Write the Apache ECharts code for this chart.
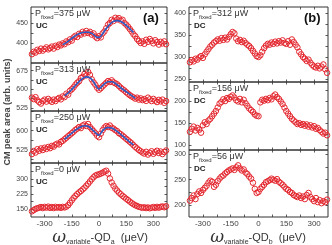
<!DOCTYPE html>
<html><head><meta charset="utf-8">
<script src="https://cdn.jsdelivr.net/npm/echarts@6/dist/echarts.min.js"></script>
<style>html,body{margin:0;padding:0;background:#fff}#c{width:332px;height:245px}</style>
</head><body><div id="c"></div><script>
// detuning (µeV)
const detuning = [-370,-360,-350,-340,-330,-320,-310,-300,-290,-280,
 -270,-260,-250,-240,-230,-220,-210,-200,-190,-180,
 -170,-160,-150,-140,-130,-120,-110,-100,-90,-80,
 -70,-60,-50,-40,-30,-20,-10,0,10,20,
 30,40,50,60,70,80,90,100,110,120,
 130,140,150,160,170,180,190,200,210,220,
 230,240,250,260,270,280,290,300,310,320,
 330,340,350,360,370];
// (a) UC panels
const ucP375 = [372,378,376,383,380,386,381,385,389,384,
 387,391,386,393,390,396,394,399,397,404,
 402,409,406,414,418,415,423,421,428,424,
 430,425,428,421,424,416,412,417,414,424,
 429,437,446,450,458,455,463,459,462,456,
 458,450,446,441,435,429,422,417,410,405,
 400,404,398,408,403,410,405,399,407,402,
 396,403,399,404,397];
const ucP313 = [566,560,568,555,548,542,552,558,550,561,
 554,549,558,552,560,565,559,571,568,582,
 578,594,600,608,618,626,632,645,650,662,
 656,670,658,640,628,618,606,598,604,612,
 619,626,633,629,636,628,624,620,613,606,
 600,595,588,582,576,571,567,562,566,558,
 563,556,560,553,566,559,552,561,554,548,
 557,551,558,545,552];
const ucP250 = [508,520,514,527,521,530,524,533,528,536,
 531,540,537,545,549,546,556,560,566,572,
 578,584,590,596,603,608,614,610,620,624,
 618,626,614,606,598,590,580,574,588,602,
 612,618,614,620,611,608,602,598,590,586,
 580,574,568,562,556,550,543,536,530,524,
 519,514,510,517,506,513,519,509,515,521,
 512,518,508,516,522];
const ucP0 = [140,146,152,155,158,161,156,162,158,163,
 157,161,156,162,158,161,157,162,159,163,
 170,182,194,206,216,225,233,240,248,256,
 266,276,287,298,308,316,320,322,326,330,
 336,340,326,302,282,266,252,242,232,224,
 216,209,202,195,188,181,175,170,166,162,
 160,157,160,156,159,155,158,161,157,162,
 158,162,164,160,165];
// fits (blue)
const fitX375 = [-200,-180,-160,-140,-120,-100,-80,-60,-40,-20,-10,0,10,20,40,60,80,100,120,140,160,180,190];
const fit375 = [396,401,408,415,421,425,427,427,424,417,414,414,417,423,436,447,454,456,454,448,440,431,426];
const fitX313 = [-190,-160,-130,-100,-80,-70,-50,-30,-15,0,15,30,50,70,90,120,150,180,200];
const fit313 = [573,592,615,638,648,650,646,630,612,601,611,622,630,630,623,606,590,574,563];
const fitX250 = [-190,-160,-130,-100,-80,-60,-40,-20,0,15,30,50,70,100,130,160,190];
const fit250 = [566,584,602,615,619,617,606,592,582,595,607,612,610,597,579,561,544];
// (b) DC panels
const dcP312 = [288,293,290,296,294,299,302,298,306,312,
 318,324,328,333,336,340,337,343,339,344,
 340,346,352,357,354,342,336,339,334,337,
 332,328,325,320,314,308,302,300,304,312,
 320,326,330,328,333,330,335,331,336,333,
 338,332,330,336,328,340,334,328,322,312,
 306,300,296,291,294,287,282,278,276,280,
 274,278,283,272,264];
const dcP156 = [130,137,142,133,139,135,128,145,152,148,
 156,160,166,172,178,186,195,199,205,201,
 208,206,211,214,209,203,200,206,198,204,
 196,190,184,180,176,170,167,166,198,204,
 202,206,203,208,205,212,216,210,206,200,
 194,186,178,172,166,160,156,152,148,150,
 146,148,144,147,142,145,140,143,137,139,
 134,130,126,128,122];
const dcP56 = [209,214,219,212,222,227,224,230,234,238,
 244,248,246,236,240,247,252,256,258,262,
 265,268,270,272,269,274,278,272,268,270,
 264,261,256,252,244,232,224,226,232,236,
 240,245,247,249,252,250,248,251,246,243,
 240,236,232,230,226,224,220,218,216,219,
 214,217,212,220,224,216,212,208,214,206,
 210,204,208,206,211];
// tick labels
const xTickLabels = [-300,-150,0,150,300];
const xTicks = [-300,-225,-150,-75,0,75,150,225,300];

const RED = '#e3262e', BLUE = '#2c5cc5', AX = '#333', TXT = '#333';
const FONT = 'Liberation Sans, Arial, sans-serif';

const panels = [
 {g:{left:31,top:7,width:136,height:56}, y:ucP375, fx:fitX375, fy:fit375, min:350, max:490, lab:[400,450], tk:[375,400,425,450,475], p:'375', mode:'UC', bottom:false},
 {g:{left:31,top:63,width:136,height:48}, y:ucP313, fx:fitX313, fy:fit313, min:512, max:706, lab:[525,600,675], tk:[525,562.5,600,637.5,675], p:'313', mode:'UC', bottom:false},
 {g:{left:31,top:111,width:136,height:52}, y:ucP250, fx:fitX250, fy:fit250, min:473, max:677, lab:[525,600], tk:[487.5,525,562.5,600,637.5,675], p:'250', mode:'UC', bottom:false},
 {g:{left:31,top:163,width:136,height:54}, y:ucP0, min:112, max:378, lab:[150,225,300], tk:[150,187.5,225,262.5,300,337.5,375], p:'0', mode:'UC', bottom:true},
 {g:{left:189,top:7,width:139,height:75}, y:dcP312, min:243, max:414, lab:[250,300,350,400], tk:[250,275,300,325,350,375,400], p:'312', mode:'DC', bottom:false},
 {g:{left:189,top:82,width:139,height:68}, y:dcP156, min:88, max:245, lab:[100,150,200], tk:[100,125,150,175,200,225], p:'156', mode:'DC', bottom:false},
 {g:{left:189,top:150,width:139,height:67}, y:dcP56, min:177, max:308, lab:[200,250,300], tk:[200,225,250,275,300], p:'56', mode:'DC', bottom:true}
];

const grids=[], xAxes=[], yAxes=[], series=[], graphics=[];
const tickStyle = {show:true, inside:true, length:2.5, lineStyle:{color:AX, width:0.8}};
const noLine = {show:false, onZero:false};
panels.forEach((P,i)=>{
  grids.push(Object.assign({show:true, borderColor:AX, borderWidth:1, containLabel:false}, P.g));
  xAxes.push({type:'value', gridIndex:i, min:-375, max:375, position:'bottom',
    axisLine:noLine, splitLine:{show:false},
    axisTick:Object.assign({customValues:xTicks}, tickStyle),
    axisLabel:{show:P.bottom, customValues:xTickLabels, fontSize:8, color:'#444', fontFamily:FONT, margin:3}});
  xAxes.push({type:'value', gridIndex:i, min:-375, max:375, position:'top',
    axisLine:noLine, splitLine:{show:false},
    axisTick:Object.assign({customValues:xTicks}, tickStyle), axisLabel:{show:false}});
  yAxes.push({type:'value', gridIndex:i, min:P.min, max:P.max, position:'left',
    axisLine:noLine, splitLine:{show:false},
    axisTick:Object.assign({customValues:P.tk}, tickStyle),
    axisLabel:{customValues:P.lab, fontSize:7, color:'#444', fontFamily:FONT, margin:3}});
  yAxes.push({type:'value', gridIndex:i, min:P.min, max:P.max, position:'right',
    axisLine:noLine, splitLine:{show:false},
    axisTick:Object.assign({customValues:P.tk}, tickStyle), axisLabel:{show:false}});
  series.push({type:'line', xAxisIndex:2*i, yAxisIndex:2*i, data:detuning.map((v,k)=>[v,P.y[k]]),
    symbol:'circle', symbolSize:5.5, showAllSymbol:true, silent:true,
    itemStyle:{color:'rgba(255,255,255,0)', borderColor:RED, borderWidth:1},
    lineStyle:{color:RED, width:0.6, opacity:0.45}, z:2});
  if (P.fx) series.push({type:'line', xAxisIndex:2*i, yAxisIndex:2*i, data:P.fx.map((v,k)=>[v,P.fy[k]]),
    symbol:'none', smooth:0.4, silent:true, lineStyle:{color:BLUE, width:1.6}, z:3});
  const tx = P.g.left + 4;
  graphics.push({type:'text', x:tx, y:P.g.top+1, z:10, style:{
    text:'{p|P}{s|fixed}{p|=' + P.p + ' μW}',
    rich:{p:{fontSize:9, lineHeight:12, fontFamily:FONT, fill:TXT},
          s:{fontSize:6, lineHeight:6, verticalAlign:'bottom', fontFamily:FONT, fill:TXT}}}});
  graphics.push({type:'text', x:tx+1, y:P.g.top+15, z:10, style:{text:P.mode, fontSize:8, fontWeight:'bold', fontFamily:FONT, fill:'#222'}});
});
graphics.push({type:'text', x:143, y:12, z:10, style:{text:'(a)', fontSize:13, fontWeight:'bold', fontFamily:FONT, fill:'#111'}});
graphics.push({type:'text', x:304, y:12, z:10, style:{text:'(b)', fontSize:13, fontWeight:'bold', fontFamily:FONT, fill:'#111'}});
graphics.push({type:'text', x:8, y:112, rotation:Math.PI/2, z:10, style:{text:'CM peak area (arb. units)', fontSize:9, fontWeight:'bold', fontFamily:FONT, fill:'#444', align:'center', verticalAlign:'middle'}});
function xTitle(cx, sub){
  return {type:'text', x:cx, y:238, z:10, style:{
    text:'{w|ω}{s|variable}{m|-QD}{s|' + sub + '}{m|  (μeV)}', align:'center', verticalAlign:'middle',
    rich:{w:{fontSize:17, fontStyle:'italic', lineHeight:16, fontFamily:'DejaVu Serif, serif', fill:TXT},
          m:{fontSize:11, lineHeight:16, fontFamily:FONT, fill:TXT},
          s:{fontSize:7, lineHeight:7, verticalAlign:'bottom', fontFamily:FONT, fill:TXT}}}};
}
graphics.push(xTitle(100, 'a'));
graphics.push(xTitle(258, 'b'));

const chart = echarts.init(document.getElementById('c'), null, {renderer:'canvas'});
chart.setOption({animation:false, grid:grids, xAxis:xAxes, yAxis:yAxes, series:series, graphic:graphics});
</script></body></html>
